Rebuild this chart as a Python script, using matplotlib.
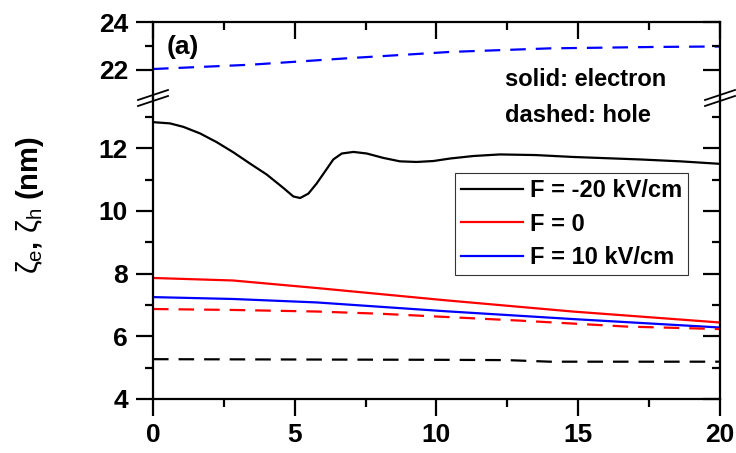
import matplotlib
matplotlib.use('Agg')
import matplotlib.pyplot as plt
from matplotlib.ticker import FixedLocator, MultipleLocator

plt.rcParams['font.family'] = ['Liberation Sans', 'DejaVu Sans']
plt.rcParams['font.weight'] = 'bold'
plt.rcParams['mathtext.fontset'] = 'custom'
plt.rcParams['mathtext.rm'] = 'Liberation Sans:weight=normal'
plt.rcParams['mathtext.it'] = 'Liberation Sans:weight=normal'
plt.rcParams['mathtext.bf'] = 'Liberation Sans:bold'

# electron, F = -20 kV/cm (solid black)
x_e_m20 = [0, 0.6, 1.07, 1.66, 2.25, 2.83, 3.42, 4.01, 4.6, 4.95, 5.19, 5.48, 5.77, 6.07,
           6.36, 6.66, 7.07, 7.54, 8.12, 8.71, 9.3, 9.89, 10.48, 11.3, 12.24, 13.5, 14.8,
           17.18, 18.6, 20]
y_e_m20 = [12.83, 12.79, 12.68, 12.47, 12.19, 11.87, 11.51, 11.16, 10.73, 10.46, 10.41, 10.55,
           10.87, 11.26, 11.64, 11.83, 11.88, 11.83, 11.69, 11.58, 11.56, 11.59, 11.67, 11.75,
           11.8, 11.78, 11.72, 11.64, 11.58, 11.5]
# electron, F = 0 (solid red)
x_e_0 = [0, 2.82, 5.77, 10.3, 14.8, 20]
y_e_0 = [7.86, 7.78, 7.54, 7.15, 6.79, 6.44]
# electron, F = 10 kV/cm (solid blue)
x_e_10 = [0, 2.82, 5.77, 10.3, 14.8, 20]
y_e_10 = [7.25, 7.19, 7.08, 6.8, 6.55, 6.28]
# hole, F = 0 (dashed red)
x_h_0 = [0, 2.82, 5.77, 8.0, 10.48, 12.94, 16.7, 20]
y_h_0 = [6.87, 6.84, 6.79, 6.72, 6.61, 6.5, 6.31, 6.23]
# hole, F = -20 kV/cm (dashed black)
x_h_m20 = [0, 5, 10.12, 12.5, 14, 17, 20]
y_h_m20 = [5.27, 5.26, 5.25, 5.24, 5.19, 5.19, 5.19]
# hole, F = 10 kV/cm (dashed blue, upper panel)
x_h_10 = [0, 3.42, 6.95, 10.48, 14, 17.76, 20]
y_h_10 = [22.02, 22.2, 22.48, 22.74, 22.89, 22.95, 22.97]

W, H = 736, 453
fig = plt.figure(figsize=(W / 100, H / 100), dpi=100)

left, right = 153 / W, 720 / W
y_break = 1 - 98 / H
ax_bot = fig.add_axes([left, 1 - 399 / H, right - left, y_break - (1 - 399 / H)])
ax_top = fig.add_axes([left, y_break, right - left, (1 - 22 / H) - y_break])

lw = 1.6
dash = (7, 4.5)
ax_bot.plot(x_e_m20, y_e_m20, color='black', lw=lw, label='F = -20 kV/cm')
ax_bot.plot(x_e_0, y_e_0, color='red', lw=lw, label='F = 0')
ax_bot.plot(x_e_10, y_e_10, color='blue', lw=lw, label='F = 10 kV/cm')
ax_bot.plot(x_h_0, y_h_0, color='red', lw=lw, dashes=dash)
ax_bot.plot(x_h_m20, y_h_m20, color='black', lw=lw, dashes=dash)
ax_top.plot(x_h_10, y_h_10, color='blue', lw=lw, dashes=dash)

ax_bot.set_xlim(0, 20)
ax_top.set_xlim(0, 20)
ax_bot.set_ylim(4, 13.6)
ax_top.set_ylim(20.8, 24)

for ax in (ax_bot, ax_top):
    for s in ax.spines.values():
        s.set_linewidth(1.6)
    ax.xaxis.set_major_locator(MultipleLocator(5))
    ax.xaxis.set_minor_locator(MultipleLocator(2.5))

ax_bot.spines['top'].set_visible(False)
ax_top.spines['bottom'].set_visible(False)

ax_bot.yaxis.set_major_locator(FixedLocator([4, 6, 8, 10, 12]))
ax_bot.yaxis.set_minor_locator(FixedLocator([5, 7, 9, 11, 13]))
ax_top.yaxis.set_major_locator(FixedLocator([22, 24]))
ax_top.yaxis.set_minor_locator(FixedLocator([23]))

tick_kw = dict(labelsize=19, width=1.6)
ax_bot.tick_params(axis='x', which='both', direction='out', top=False, bottom=True, pad=5, **tick_kw)
ax_bot.tick_params(axis='y', which='both', direction='out', left=True, right=False, pad=6, **tick_kw)
ax_bot.tick_params(which='major', length=12)
ax_bot.tick_params(which='minor', length=6)
ax_top.tick_params(axis='x', which='both', direction='in', top=True, bottom=False, labelbottom=False, **tick_kw)
ax_top.tick_params(axis='y', which='both', direction='out', left=True, right=False, pad=6, **tick_kw)
ax_top.tick_params(which='major', length=12)
ax_top.tick_params(which='minor', length=6)

# inward ticks on the right side
for ax in (ax_bot, ax_top):
    ax2 = ax.twinx()
    ax2.set_ylim(ax.get_ylim())
    ax2.yaxis.set_major_locator(ax.yaxis.get_major_locator())
    ax2.yaxis.set_minor_locator(ax.yaxis.get_minor_locator())
    ax2.tick_params(axis='y', which='both', direction='in', labelright=False, width=1.6)
    ax2.tick_params(which='major', length=12)
    ax2.tick_params(which='minor', length=6)
    for s in ax2.spines.values():
        s.set_visible(False)

fig.text(30 / W, 1 - 205 / H, r'$\zeta_{\rm e}$, $\zeta_{\rm h}$ (nm)', rotation=90,
         fontsize=21, ha='center', va='center')

fig.text(167 / W, 1 - 47 / H, '(a)', fontsize=19, va='center', ha='left')
fig.text(505 / W, 1 - 80 / H, 'solid: electron', fontsize=17, va='center', ha='left', zorder=10)
fig.text(505 / W, 1 - 116 / H, 'dashed: hole', fontsize=17, va='center', ha='left', zorder=10)

leg = ax_bot.legend(loc='upper right', bbox_to_anchor=((688 - 153) / 567, (399 - 173) / 301),
                    borderaxespad=0, fontsize=17, handlelength=2.6, handletextpad=0.3,
                    borderpad=0.25, labelspacing=0.45, fancybox=False, frameon=True)
leg.get_frame().set_edgecolor('black')
leg.get_frame().set_linewidth(0.8)

# axis break marks
for xc in (left, right):
    for dy in (-3, 3):
        x0 = xc - 15 / W
        x1 = xc + 15 / W
        yc = y_break + dy / H
        fig.add_artist(plt.Line2D([x0, x1], [yc - 5 / H, yc + 5 / H], color='black', lw=1.3,
                                  transform=fig.transFigure, clip_on=False))

fig.savefig('out.png', dpi=100)
